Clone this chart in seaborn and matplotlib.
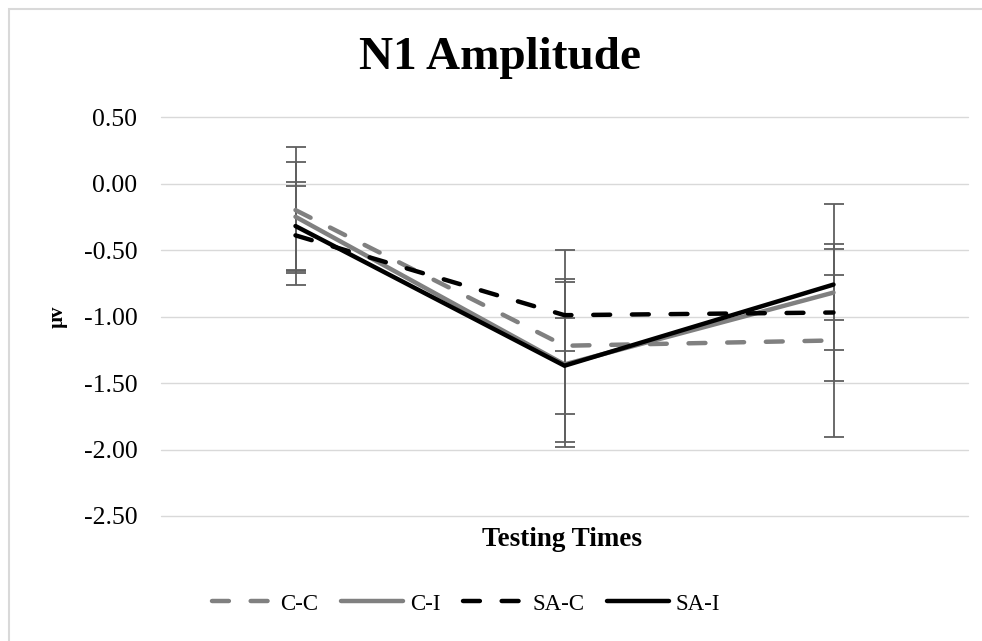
import numpy as np
import pandas as pd
import seaborn as sns
import matplotlib
matplotlib.use("Agg")
import matplotlib.pyplot as plt
from matplotlib.lines import Line2D
from matplotlib.patches import Rectangle

# Mean N1 amplitude (µv) at each testing time, with error bar half-widths
times = ["T1", "T2", "T3"]
groups = ["C-C", "C-I", "SA-C", "SA-I"]
cc_mean = [-0.20, -1.22, -1.18]
ci_mean = [-0.25, -1.36, -0.82]
sac_mean = [-0.39, -0.99, -0.97]
sai_mean = [-0.32, -1.37, -0.76]
cc_err = [0.475, 0.72, 0.725]
ci_err = [0.41, 0.62, 0.665]
sac_err = [0.37, 0.27, 0.28]
sai_err = [0.33, 0.36, 0.265]
yticks = [0.50, 0.00, -0.50, -1.00, -1.50, -2.00, -2.50]

means = {"C-C": cc_mean, "C-I": ci_mean, "SA-C": sac_mean, "SA-I": sai_mean}
errs = {"C-C": cc_err, "C-I": ci_err, "SA-C": sac_err, "SA-I": sai_err}

df = pd.DataFrame(
    [(g, i, m, e) for g in groups for i, (m, e) in enumerate(zip(means[g], errs[g]))],
    columns=["group", "pos", "amp", "err"],
)

sns.set_theme(style="white")
plt.rcParams["font.family"] = ["Liberation Serif", "DejaVu Serif"]
plt.rcParams["text.color"] = "black"
plt.rcParams["ytick.color"] = "black"

palette = {"C-C": "#808080", "C-I": "#808080", "SA-C": "#000000", "SA-I": "#000000"}
dash_on, dash_off = 3.8, 4.9
dashes = {"C-C": (dash_on, dash_off), "C-I": "", "SA-C": (dash_on, dash_off), "SA-I": ""}
LW = 3.2

fig = plt.figure(figsize=(9.82, 6.41), dpi=100)
W, H = 982, 641
ax = fig.add_axes([161 / W, 1 - 516 / H, (968 - 161) / W, (516 - 117) / H])

# error bars under the lines
for g in groups:
    sub = df[df.group == g]
    ax.errorbar(sub.pos, sub.amp, yerr=sub.err, fmt="none", ecolor="#5f5f5f",
                elinewidth=1.3, capsize=7.5, capthick=1.3, zorder=2)

sns.lineplot(data=df, x="pos", y="amp", hue="group", style="group",
             hue_order=groups, style_order=groups, palette=palette,
             dashes=dashes, linewidth=LW, legend=False, ax=ax, zorder=3,
             errorbar=None)
for ln in ax.get_lines():
    ln.set_dash_capstyle("round")
    ln.set_solid_capstyle("round")
    ln.set_solid_joinstyle("miter")

ax.set_xlim(-0.5, 2.5)
ax.set_ylim(-2.5, 0.5)
ax.set_xticks([])
ax.set_yticks(yticks)
ax.set_yticklabels([f"{v:.2f}" for v in yticks], fontsize=18.5, color="black")
ax.tick_params(axis="y", length=0, pad=17)
ax.yaxis.grid(True, color="#d9d9d9", linewidth=1.0, zorder=0)
for gl in ax.yaxis.get_gridlines():
    gl.set_clip_on(False)
ax.set_axisbelow(True)
for s in ax.spines.values():
    s.set_visible(False)
ax.set_xlabel("")
ax.set_ylabel("")

fig.text(500 / W, 1 - 58 / H, "N1 Amplitude", ha="center", va="center",
         fontsize=34, fontweight="bold", color="black")
fig.text(562 / W, 1 - 539 / H, "Testing Times", ha="center", va="center",
         fontsize=19.5, fontweight="bold", color="black")
fig.text(58 / W, 1 - 317 / H, "µv", ha="center", va="center", rotation=90,
         fontsize=15, fontweight="bold", color="black")

handles = []
for g in groups:
    h = Line2D([0], [0], color=palette[g], linewidth=LW,
               solid_capstyle="round", dash_capstyle="round")
    if dashes[g]:
        h.set_dashes(dashes[g])
    handles.append(h)
leg = fig.legend(handles, groups, loc="center", bbox_to_anchor=(466 / W, 1 - 604 / H),
                 ncol=4, frameon=False, fontsize=16.5, handlelength=2.7,
                 handletextpad=0.3, columnspacing=1.0)
for t in leg.get_texts():
    t.set_color("black")

# chart border
fig.patches.append(Rectangle((9 / W, -0.1), 1.2, 1 - 9 / H + 0.1,
                             transform=fig.transFigure, fill=False,
                             edgecolor="#d9d9d9", linewidth=1.5))

fig.savefig("out.png", dpi=100, facecolor="white")
